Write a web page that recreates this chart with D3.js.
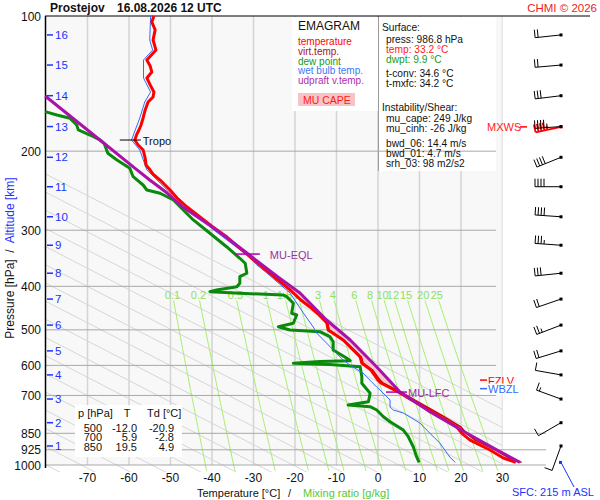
<!DOCTYPE html>
<html>
<head>
<meta charset="utf-8">
<script src="https://cdn.jsdelivr.net/npm/d3@7"></script>
<style>
  body { margin: 0; background: #fff; }
  svg { font-family: "Liberation Sans", Arial, sans-serif; }
</style>
</head>
<body>
<svg id="chart" width="600" height="500"></svg>
<script>
// ---- sounding data ----
const tempP = [100,103.1,107.4,113.1,119.1,125.3,129.2,133.3,137.4,142.4,147.7,151.5,155.4,161.9,168.7,174.9,179.4,183.2,188.9,193.8,198.8,207.2,214.7,220.3,224.9,231.9,244.1,254.3,266.3,280.3,295.1,310.7,328.7,349.5,367.9,387.2,407.5,429.1,444.7,463.3,482.7,500.4,526.8,574.8,592.8,614.4,647,656.8,691.3,716.6,741,779.6,823,850,880,926,964.8,986.8];
const tempT = [-54.0,-54.5,-53.7,-54.2,-53.5,-55.7,-54.9,-54.5,-55.7,-54.9,-54.0,-54.2,-55.4,-56.1,-56.6,-57.1,-57.6,-58.1,-58.6,-57.8,-56.6,-56.1,-55.9,-54.9,-54.2,-52.5,-50.1,-48.4,-46.0,-42.9,-39.8,-36.4,-33.3,-29.9,-27.0,-24.1,-21.2,-18.6,-16.4,-14.2,-12.3,-12.0,-8.4,-4.3,-3.9,-1.7,0.0,0.7,5.3,8.1,10.9,14.9,19.0,20.2,22.2,27.0,30.2,33.2];

const virtP = [349.5,367.9,387.2,407.5,429.1,444.7,463.3,482.7,500.4,526.8,574.8,592.8,614.4,647,656.8,691.3,716.6,741,779.6,823,850,880,926,964.8,986.8];
const virtT = [-29.9,-27.0,-24.0,-21.1,-18.5,-16.3,-14.1,-12.1,-11.8,-8.2,-4.0,-3.6,-1.3,0.5,1.2,5.9,8.8,11.7,15.8,20.0,21.3,23.4,28.3,31.6,34.6];

const dewP = [163.3,166.1,169.0,174.9,179.4,184.1,188.9,192.1,202.2,209.3,218.4,228.0,237.9,244.1,248.2,256.9,265.9,284.6,304.7,326.5,346.4,355.4,374.1,380.7,393.8,400.7,407.5,411.1,414.9,418.1,421.8,436.4,459.3,463.3,483.5,492.0,500.4,504.8,517.9,531.5,554.5,578.7,585.8,588.2,593.7,597.3,604.1,635.9,657.8,692.4,722.8,735.1,741.6,754.3,780.7,800.9,835.8,865.0,910.5,958.4,986.8];
const dewT = [-80.2,-77.4,-74.2,-72.6,-72.2,-69.4,-67.0,-66.0,-65.1,-62.9,-59.8,-59.0,-56.6,-55.7,-52.5,-49.3,-47.7,-44.5,-40.5,-36.5,-33.3,-32.0,-31.6,-33.3,-33.3,-34.0,-38.9,-40.5,-32.0,-22.9,-22.0,-20.4,-20.8,-19.6,-20.4,-24.0,-21.2,-14.0,-11.6,-10.8,-10.8,-7.5,-6.7,-14.0,-20.4,-11.6,-4.3,-3.9,-3.9,-1.9,-2.3,-7.2,-1.9,-0.3,1.3,2.9,6.1,7.3,8.5,9.3,9.9];

const wetP = [100,113.1,119.1,125.3,137.4,147.7,155.4,168.7,188.9,198.8,220.3,250,300,340.7,358.5,373.5,413.9,435.7,458.6,492.7,508.2,535.0,554.5,583.7,598.9,624.0,636.9,670.5,680.9,716.6,742.8,754.3,766.0,806.3,850,893.3,959.8,986.8];
const wetT = [-54.8,-55.0,-54.3,-56.5,-56.5,-54.8,-56.2,-57.4,-59.4,-57.4,-55.7,-49.6,-39.5,-31.6,-29.2,-26.8,-21.2,-19.6,-18.0,-15.6,-14.8,-12.4,-10.8,-8.4,-6.8,-3.6,-2.7,-0.3,0.5,2.9,2.9,3.7,6.1,10.1,12.5,14.9,17.3,18.6];

const upP = [150.7,188.9,218.1,231.9,247.9,266.3,299.6,337.2,381.3,413.9,475.4,526.8,605.1,687.8,762.1,844.4,926.0,986.8];
const upT = [-80.2,-67.0,-58.6,-55.0,-50.8,-47.0,-38.9,-31.6,-24.1,-18.8,-12.4,-6.7,-0.3,5.3,12.6,20.9,28.7,34.2];

// levels
const eqlP = 339, eqlT = -31.6;
const lfcP = 688, lfcT = 5.3;
const tropoP = 188.9, tropoT = -58.6;
const fzlP = 647, wbzlP = 676, mxwsP = 176.6;

// altitude (km) and winds
const altKm = [1,2,3,4,5,6,7,8,9,10,11,12,13,14,15,16];
const altP = [907,805,713,630,557,488,427,374,324,280,240,206.4,176.3,150.5,128.6,110.2];
const windDir = [200,240,290,280,253,249,251,264,274,274,270,248,266,263,265,264];
const windSpd = [10,10,15,10,20,25,20,30,35,40,40,40,45,30,20,20];
const mxwsDir = 258, mxwsSpd = 45;

// axes
const pressureTicks = [100,200,300,400,500,600,700,850,925,1000];
const isotherms = [-70,-60,-50,-40,-30,-20,-10,0,10,20,30];
const mixRatios = [0.1,0.2,0.5,1,1.5,2,3,4,6,8,10,12,15,20,25];

// text panels
const legendItems = ["temperature","virt.temp.","dew point","wet bulb temp.","udpraft v.temp."];
const legendColors = ["#ff0000","#a31515","#149a14","#3a78ff","#b02cb0"];
const surfaceLines = ["press: 986.8 hPa","temp: 33.2 °C","dwpt: 9.9 °C","t-conv: 34.6 °C","t-mxfc: 34.2 °C"];
const shearLines = ["mu_cape: 249 J/kg","mu_cinh: -26 J/kg","bwd_06: 14.4 m/s","bwd_01: 4.7 m/s","srh_03: 98 m2/s2"];
const tableP = ["500","700","850"];
const tableT = ["-12.0","5.9","19.5"];
const tableTd = ["-20.9","-2.8","4.9"];

// ---- drawing ----
const svg = d3.select("#chart");
const x = d3.scaleLinear().domain([-80, 30]).range([46, 502.5]);
const y = d3.scaleLog().domain([100, 1000]).range([16, 465]);
const line = d3.line().x(d => x(d[1])).y(d => y(d[0]));
const pairs = (P, V) => P.map((p, i) => [p, V[i]]);

svg.append("rect").attr("width", 600).attr("height", 500).attr("fill", "#fff");
svg.append("rect").attr("x", 46).attr("y", 16).attr("width", 456.5).attr("height", 449).attr("fill", "#f8f8f8");

svg.append("clipPath").attr("id", "plot")
  .append("rect").attr("x", 46).attr("y", 16).attr("width", 456.5).attr("height", 456);
const guides = svg.append("g").attr("clip-path", "url(#plot)");

// isotherms
guides.selectAll(".iso").data(isotherms).join("line")
  .attr("x1", d => x(d)).attr("x2", d => x(d))
  .attr("y1", 16).attr("y2", 465)
  .attr("stroke", "#d4d4d4").attr("stroke-width", 1.5);

// adiabat guide lines (as drawn on this diagram: nearly straight, shallow)
const adiaBase = d3.range(-250, 60, 8.5);   // temperature at 1000 hPa
const adiaSlope = 210;                      // degC per decade of pressure
guides.selectAll(".adia").data(adiaBase).join("path")
  .attr("d", t0 => line([[100, t0 - adiaSlope], [1000, t0], [1050, t0 + adiaSlope * Math.log10(1.05)]]))
  .attr("fill", "none").attr("stroke", "#d6d6d6").attr("stroke-width", 1);

// mixing ratio lines
function tFromMix(w, p) {
  const e = w * p / (622 + w);
  const l = Math.log(e / 6.112);
  return 243.5 * l / (17.67 - l);
}
const mixPs = d3.range(430, 1031, 10);
guides.selectAll(".mix").data(mixRatios).join("path")
  .attr("d", w => line(mixPs.map(p => [p, tFromMix(w, p)])))
  .attr("fill", "none").attr("stroke", "#a6ee70").attr("stroke-width", 1);
svg.selectAll(".mixlab").data(mixRatios).join("text")
  .attr("x", w => x(tFromMix(w, 418))).attr("y", 299)
  .attr("text-anchor", "middle").attr("font-size", 11).attr("fill", "#8ee05a")
  .text(w => w);

// legend + info boxes
svg.append("rect").attr("x", 292).attr("y", 17).attr("width", 86).attr("height", 94).attr("fill", "#fff");
svg.append("rect").attr("x", 378).attr("y", 17).attr("width", 118).attr("height", 154).attr("fill", "#fff");
svg.append("line").attr("x1", 378.5).attr("x2", 378.5).attr("y1", 16).attr("y2", 171).attr("stroke", "#9a9a9a");

// pressure lines
svg.selectAll(".pl").data(pressureTicks.slice(1)).join("line")
  .attr("x1", 46).attr("x2", d => d >= 850 ? 546 : 496)
  .attr("y1", d => y(d)).attr("y2", d => y(d))
  .attr("stroke", "#a8a8a8").attr("stroke-width", 1);

// table box
svg.append("rect").attr("x", 75).attr("y", 405).attr("width", 107).attr("height", 52).attr("fill", "#fff");
const tab = svg.append("g").attr("font-size", 11).attr("fill", "#111");
tab.append("text").attr("x", 78).attr("y", 417).text("p [hPa]");
tab.append("text").attr("x", 127).attr("y", 417).attr("text-anchor", "middle").text("T");
tab.append("text").attr("x", 147).attr("y", 417).text("Td [°C]");
tableP.forEach((p, i) => {
  const yy = 431.5 + i * 9.8;
  tab.append("text").attr("x", 102).attr("y", yy).attr("text-anchor", "end").text(p);
  tab.append("text").attr("x", 137).attr("y", yy).attr("text-anchor", "end").text(tableT[i]);
  tab.append("text").attr("x", 174).attr("y", yy).attr("text-anchor", "end").text(tableTd[i]);
});

// frame
svg.append("line").attr("x1", 45.5).attr("x2", 45.5).attr("y1", 16).attr("y2", 468).attr("stroke", "#000").attr("stroke-width", 1.5);
svg.append("line").attr("x1", 45).attr("x2", 590).attr("y1", 16).attr("y2", 16).attr("stroke", "#000").attr("stroke-width", 1.2);

// pressure labels
svg.selectAll(".plab").data(pressureTicks).join("text")
  .attr("x", 41).attr("y", d => y(d) + 4.5)
  .attr("text-anchor", "end").attr("font-size", 12).attr("fill", "#111").text(d => d);

// altitude ticks
const alt = svg.append("g").attr("fill", "#1a33ff");
altKm.forEach((k, i) => {
  const yy = y(altP[i]);
  alt.append("line").attr("x1", 47).attr("x2", 53).attr("y1", yy).attr("y2", yy).attr("stroke", "#1a33ff").attr("stroke-width", 1.5);
  alt.append("text").attr("x", 55).attr("y", yy + 4).attr("font-size", 11.5).text(k);
});

// temperature labels
svg.selectAll(".tlab").data(isotherms).join("text")
  .attr("x", d => x(d)).attr("y", 482)
  .attr("text-anchor", "middle").attr("font-size", 12).attr("fill", "#111").text(d => d);

// axis titles
svg.append("text").attr("x", 197).attr("y", 497).attr("font-size", 11).attr("fill", "#111").text("Temperature [°C]");
svg.append("text").attr("x", 288).attr("y", 497).attr("font-size", 11).attr("fill", "#111").text("/");
svg.append("text").attr("x", 303).attr("y", 497).attr("font-size", 11).attr("fill", "#55c933").text("Mixing ratio [g/kg]");
const ytitle = svg.append("text").attr("transform", "translate(14,258) rotate(-90)")
  .attr("text-anchor", "middle").attr("font-size", 12).attr("xml:space", "preserve");
ytitle.append("tspan").attr("fill", "#111").text("Pressure [hPa]  /  ");
ytitle.append("tspan").attr("fill", "#1a33ff").text("Altitude [km]");

// title
svg.append("text").attr("x", 50).attr("y", 12).attr("font-size", 12).attr("font-weight", "bold").attr("fill", "#111").text("Prostejov");
svg.append("text").attr("x", 117).attr("y", 12).attr("font-size", 12).attr("font-weight", "bold").attr("fill", "#111").text("16.08.2026 12 UTC");
svg.append("text").attr("x", 597).attr("y", 12).attr("text-anchor", "end").attr("font-size", 11.5).attr("fill", "#ee2222").text("CHMI © 2026");

// legend
svg.append("text").attr("x", 298).attr("y", 29.5).attr("font-size", 12).attr("fill", "#111").text("EMAGRAM");
svg.selectAll(".leg").data(legendItems).join("text")
  .attr("x", 298).attr("y", (d, i) => 45 + i * 9.8)
  .attr("font-size", 10).attr("fill", (d, i) => legendColors[i]).text(d => d);
svg.append("rect").attr("x", 298).attr("y", 93).attr("width", 57).attr("height", 13).attr("fill", "#f6c4c4");
svg.append("text").attr("x", 303).attr("y", 104).attr("font-size", 10.5).attr("fill", "#ff1a1a").text("MU CAPE");

// info panel
const info = svg.append("g").attr("font-size", 10.2).attr("fill", "#111");
info.append("text").attr("x", 382).attr("y", 30.5).text("Surface:");
const surfY = [42.5, 52.5, 62.5, 76.5, 86.5];
const surfC = ["#111", "#ff1a1a", "#1a9a1a", "#111", "#111"];
surfaceLines.forEach((s, i) => info.append("text").attr("x", 386).attr("y", surfY[i]).attr("fill", surfC[i]).text(s));
info.append("text").attr("x", 382).attr("y", 110.5).text("Instability/Shear:");
const shearY = [122.3, 132.3, 147, 157, 166.7];
shearLines.forEach((s, i) => info.append("text").attr("x", 386).attr("y", shearY[i]).text(s));

// CAPE area
function interpAt(P, V, p) {
  if (p <= P[0]) return V[0];
  if (p >= P[P.length - 1]) return V[V.length - 1];
  const i = d3.bisectLeft(P, p);
  const f = Math.log(p / P[i - 1]) / Math.log(P[i] / P[i - 1]);
  return V[i - 1] + f * (V[i] - V[i - 1]);
}
const envTv = p => p >= virtP[0] ? interpAt(virtP, virtT, p) : interpAt(tempP, tempT, p);
const capeGrid = Array.from(new Set([...d3.range(eqlP, lfcP, 3), lfcP, ...upP, ...virtP, ...tempP]
  .filter(p => p >= eqlP && p <= lfcP))).sort((a, b) => a - b);
const capeTop = capeGrid.map(p => [p, Math.max(interpAt(upP, upT, p), envTv(p))]);
const capeBot = capeGrid.map(p => [p, envTv(p)]).reverse();
svg.append("path").attr("d", line(capeTop.concat(capeBot)) + "Z").attr("fill", "#f6c8c8").attr("stroke", "none");

// profiles
const curves = [
  [pairs(dewP, dewT), "#0a8a0a", 3],
  [pairs(wetP, wetT), "#2f6cff", 1],
  [pairs(virtP, virtT), "#c80000", 1.5],
  [pairs(tempP, tempT), "#ff0000", 3],
  [pairs(upP, upT), "#aa10aa", 3]
];
svg.selectAll(".curve").data(curves).join("path")
  .attr("d", d => line(d[0]))
  .attr("fill", "none").attr("stroke", d => d[1]).attr("stroke-width", d => d[2])
  .attr("stroke-linejoin", "round");

// level markers
const mk = svg.append("g").attr("font-size", 11);
mk.append("line").attr("x1", x(tropoT) - 15).attr("x2", x(tropoT) + 6).attr("y1", y(tropoP)).attr("y2", y(tropoP)).attr("stroke", "#000");
mk.append("text").attr("x", x(tropoT) + 8).attr("y", y(tropoP) + 4.5).attr("fill", "#111").text("Tropo");
mk.append("line").attr("x1", x(eqlT) - 11).attr("x2", x(eqlT) + 13).attr("y1", y(eqlP)).attr("y2", y(eqlP)).attr("stroke", "#b000b0").attr("stroke-width", 1.5);
mk.append("text").attr("x", x(eqlT) + 23).attr("y", y(eqlP) + 4.5).attr("fill", "#993399").text("MU-EQL");
mk.append("line").attr("x1", x(lfcT) - 14).attr("x2", x(lfcT) + 7).attr("y1", y(lfcP)).attr("y2", y(lfcP)).attr("stroke", "#b000b0").attr("stroke-width", 1.5);
mk.append("text").attr("x", x(lfcT) + 8).attr("y", y(lfcP) + 4.5).attr("fill", "#993399").text("MU-LFC");
// FZLV / WBZL (WBZL box hides the lower half of FZLV, as in the original)
mk.append("line").attr("x1", 480).attr("x2", 487).attr("y1", y(fzlP)).attr("y2", y(fzlP)).attr("stroke", "#ff0000").attr("stroke-width", 1.5);
mk.append("text").attr("x", 488).attr("y", y(fzlP) + 5).attr("fill", "#ff0000").text("FZLV");
mk.append("rect").attr("x", 480).attr("y", y(fzlP) + 3.5).attr("width", 43).attr("height", 11).attr("fill", "#fff");
mk.append("line").attr("x1", 480).attr("x2", 487).attr("y1", y(wbzlP)).attr("y2", y(wbzlP)).attr("stroke", "#2f6cff").attr("stroke-width", 1.5);
mk.append("text").attr("x", 488).attr("y", y(wbzlP) + 4.5).attr("fill", "#2f6cff").text("WBZL");
// MXWS
mk.append("text").attr("x", 487).attr("y", y(mxwsP) + 4.5).attr("fill", "#ff2020").text("MXWS");
mk.append("line").attr("x1", 520).attr("x2", 527).attr("y1", y(mxwsP)).attr("y2", y(mxwsP)).attr("stroke", "#ff0000").attr("stroke-width", 1.5);

// wind barbs
const barbs = svg.append("g");
function drawBarb(p, dir, spd, color, w) {
  const sx = 561, sy = y(p);
  const r = dir * Math.PI / 180;
  const ux = Math.sin(r), uy = -Math.cos(r);
  const L = 26, F = 8, step = 3;
  const tx = sx + ux * L, ty = sy + uy * L;
  const px = -uy, py = ux;
  const g = barbs.append("g").attr("stroke", color).attr("stroke-width", w).attr("fill", color);
  g.append("line").attr("x1", sx).attr("y1", sy).attr("x2", tx).attr("y2", ty);
  const n10 = Math.floor(spd / 10), n5 = Math.round((spd - n10 * 10) / 5);
  let d = 0;
  for (let i = 0; i < n10 + n5; i++) {
    const len = i < n10 ? F : F / 2;
    const bx = tx - ux * d, by = ty - uy * d;
    g.append("line").attr("x1", bx).attr("y1", by).attr("x2", bx + px * len).attr("y2", by + py * len);
    d += step;
  }
  g.append("rect").attr("x", sx - 1.5).attr("y", sy - 1.5).attr("width", 3).attr("height", 3).attr("stroke", "none");
}
drawBarb(mxwsP, mxwsDir, mxwsSpd, "#ff0000", 1.8);
altP.forEach((p, i) => drawBarb(p, windDir[i], windSpd[i], "#000", 1));

// surface marker
const sfcY = y(986.8);
svg.append("rect").attr("x", 559).attr("y", sfcY - 1.5).attr("width", 3).attr("height", 3).attr("fill", "#1a33ff");
svg.append("line").attr("x1", 561).attr("y1", sfcY).attr("x2", 574).attr("y2", 487).attr("stroke", "#1a33ff");
svg.append("text").attr("x", 512).attr("y", 496).attr("font-size", 11).attr("fill", "#1a33ff").text("SFC: 215 m ASL");
</script>
</body>
</html>
